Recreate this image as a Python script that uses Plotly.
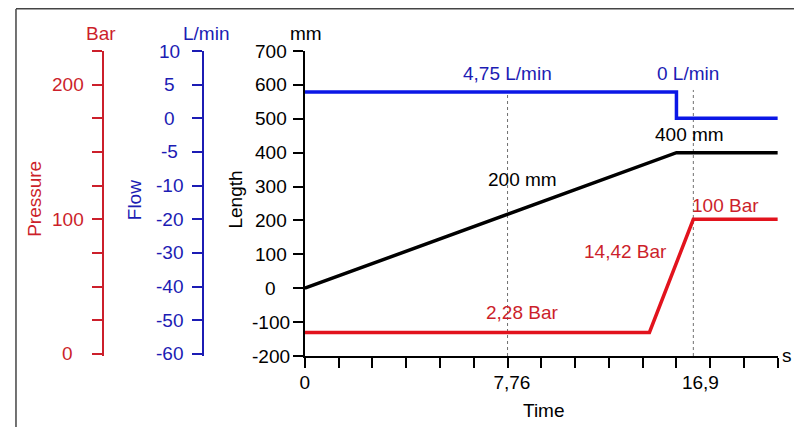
import numpy as np
import plotly.graph_objects as go

# page body has an 8px margin on every side; size the figure to fit the window exactly
OX, OY = 8, 8
W, H = 802 - 2 * OX, 435 - 2 * OY

# ---------------- data (schematic time units: one minor tick = 1) ----------------
time_length = [0, 11, 14]
length_mm = [0, 400, 400]

time_flow = [0, 11, 11, 14]
flow_lpm = [3.9, 3.9, 0, 0]

time_pressure = [0, 10.2, 11.5, 14]
pressure_bar = [16, 16, 100, 100]

event_times = [6.0, 11.5]
event_tops_mm = [575, 585]

time_minor_ticks = list(range(0, 15))
time_tick_pos = [0, 6.13, 11.71]
time_tick_labels = ["0", "7,76", "16,9"]

length_ticks = [-200, -100, 0, 100, 200, 300, 400, 500, 600, 700]
flow_ticks = [-60, -50, -40, -30, -20, -10, -5, 0, 5, 10]
pressure_ticks = [0, 25, 50, 75, 100, 125, 150, 175, 200, 225]
pressure_labelled = [0, 100, 200]

value_labels = [
    # text, x (time units), y (mm on length axis), colour key
    ("4,75 L/min", 6.01, 635, "blue"),
    ("0 L/min", 11.34, 635, "blue"),
    ("400 mm", 11.4, 455, "black"),
    ("200 mm", 6.45, 320, "black"),
    ("2,28 Bar", 6.42, -72, "red"),
    ("14,42 Bar", 9.48, 108, "red"),
    ("100 Bar", 12.45, 243, "red"),
]

# ---------------- styling ----------------
FONT = "Liberation Sans, Arial, sans-serif"
FS = 19
RED_LINE = "#e2131d"
RED_TXT = "#cc1f2b"
BLUE_LINE = "#0b17e6"
BLUE_TXT = "#1c1cb4"
BLACK = "#000000"
colors_txt = {"blue": BLUE_TXT, "black": BLACK, "red": RED_TXT}


def px(x):
    return (x - OX) / W


def py(y):
    return 1 - (y - OY) / H


def flow_idx(v):
    return np.interp(v, flow_ticks, list(range(len(flow_ticks))))


x_dom = [px(301.7), px(777.7)]
y_dom = [py(356), py(51)]

fig = go.Figure()

fig.add_trace(go.Scatter(x=time_flow, y=flow_idx(flow_lpm), mode="lines",
                         line=dict(color=BLUE_LINE, width=3.5), yaxis="y2",
                         hoverinfo="skip", showlegend=False))
fig.add_trace(go.Scatter(x=time_length, y=length_mm, mode="lines",
                         line=dict(color=BLACK, width=3.5), yaxis="y",
                         hoverinfo="skip", showlegend=False))
fig.add_trace(go.Scatter(x=time_pressure, y=pressure_bar, mode="lines",
                         line=dict(color=RED_LINE, width=3.5), yaxis="y3",
                         hoverinfo="skip", showlegend=False))

axis_common = dict(showgrid=False, zeroline=False, showline=True, linewidth=2,
                   ticks="outside", ticklen=10, tickwidth=2,
                   showticklabels=False, fixedrange=True)

fig.update_layout(
    width=W, height=H, autosize=False,
    margin=dict(l=0, r=0, t=0, b=0, pad=0),
    paper_bgcolor="white", plot_bgcolor="white",
    font=dict(family=FONT, size=FS, color=BLACK),
    xaxis=dict(domain=x_dom, range=[0, 14], anchor="y", showgrid=False, zeroline=False,
               showline=True, linewidth=2, linecolor=BLACK,
               tickmode="array", tickvals=time_tick_pos, ticktext=time_tick_labels,
               ticks="", ticklabelstandoff=8,
               tickfont=dict(size=FS, color=BLACK),
               minor=dict(tickmode="array", tickvals=time_minor_ticks, ticks="outside",
                          ticklen=10, tickwidth=2, tickcolor=BLACK, showgrid=False),
               fixedrange=True),
    yaxis=dict(domain=y_dom, range=[-200, 700], anchor="x", side="left",
               tickmode="array", tickvals=length_ticks,
               linecolor=BLACK, tickcolor=BLACK, **axis_common),
    yaxis2=dict(domain=y_dom, range=[-0.06, 9], overlaying="y", anchor="free",
                position=px(199.5), side="left",
                tickmode="array", tickvals=list(flow_idx(flow_ticks)),
                linecolor=BLUE_TXT, tickcolor=BLUE_TXT, **axis_common),
    yaxis3=dict(domain=y_dom, range=[-1.5, 225], overlaying="y", anchor="free",
                position=px(98.3), side="left",
                tickmode="array", tickvals=pressure_ticks,
                linecolor=RED_TXT, tickcolor=RED_TXT, **axis_common),
)

# dotted reference lines at the marked times
for t, top in zip(event_times, event_tops_mm):
    fig.add_shape(type="line", xref="x", yref="y", x0=t, x1=t, y0=-200, y1=top,
                  line=dict(color="#707070", width=1, dash="dot"), layer="below")

# outer frame (left and top edges visible)
fig.add_shape(type="line", xref="paper", yref="paper", x0=px(11), x1=px(11),
              y0=py(9), y1=py(445), line=dict(color="#444444", width=1.5))
fig.add_shape(type="line", xref="paper", yref="paper", x0=px(11), x1=px(812),
              y0=py(8.8), y1=py(8.8), line=dict(color="#444444", width=1.5))

ann = []
# y tick labels (centred as in the reference)
for v in length_ticks:
    ann.append(dict(x=px(267.5), xref="paper", y=v, yref="y", text=str(v),
                    showarrow=False, xanchor="center", yanchor="middle",
                    font=dict(color=BLACK, size=FS)))
for v in flow_ticks:
    ann.append(dict(x=px(165), xref="paper", y=float(flow_idx(v)), yref="y2", text=str(v),
                    showarrow=False, xanchor="center", yanchor="middle",
                    font=dict(color=BLUE_TXT, size=FS)))
for v in pressure_labelled:
    ann.append(dict(x=px(63), xref="paper", y=v, yref="y3", text=str(v),
                    showarrow=False, xanchor="center", yanchor="middle",
                    font=dict(color=RED_TXT, size=FS)))

# units above the axes
for text, xc, col in [("Bar", 97, RED_TXT), ("L/min", 202, BLUE_TXT), ("mm", 303, BLACK)]:
    ann.append(dict(x=px(xc), y=py(33), xref="paper", yref="paper", text=text,
                    showarrow=False, xanchor="center", yanchor="middle",
                    font=dict(color=col, size=FS)))

# rotated axis titles
for text, xc, yc, col in [("Pressure", 29, 199, RED_TXT), ("Flow", 131, 200, BLUE_TXT),
                          ("Length", 232, 200, BLACK)]:
    ann.append(dict(x=px(xc), y=py(yc), xref="paper", yref="paper", text=text,
                    textangle=-90, showarrow=False, xanchor="center", yanchor="middle",
                    font=dict(color=col, size=FS)))

ann.append(dict(x=px(542), y=py(410), xref="paper", yref="paper", text="Time",
                showarrow=False, xanchor="center", yanchor="middle",
                font=dict(color=BLACK, size=FS)))
ann.append(dict(x=px(793.5), y=py(355), xref="paper", yref="paper", text="s",
                showarrow=False, xanchor="right", yanchor="middle",
                font=dict(color=BLACK, size=FS)))

# value labels on the curves
for text, xv, yv, ck in value_labels:
    ann.append(dict(x=xv, y=yv, xref="x", yref="y", text=text, showarrow=False,
                    xanchor="center", yanchor="middle",
                    font=dict(color=colors_txt[ck], size=FS)))

fig.update_layout(annotations=ann)

fig.write_html("out.html")
